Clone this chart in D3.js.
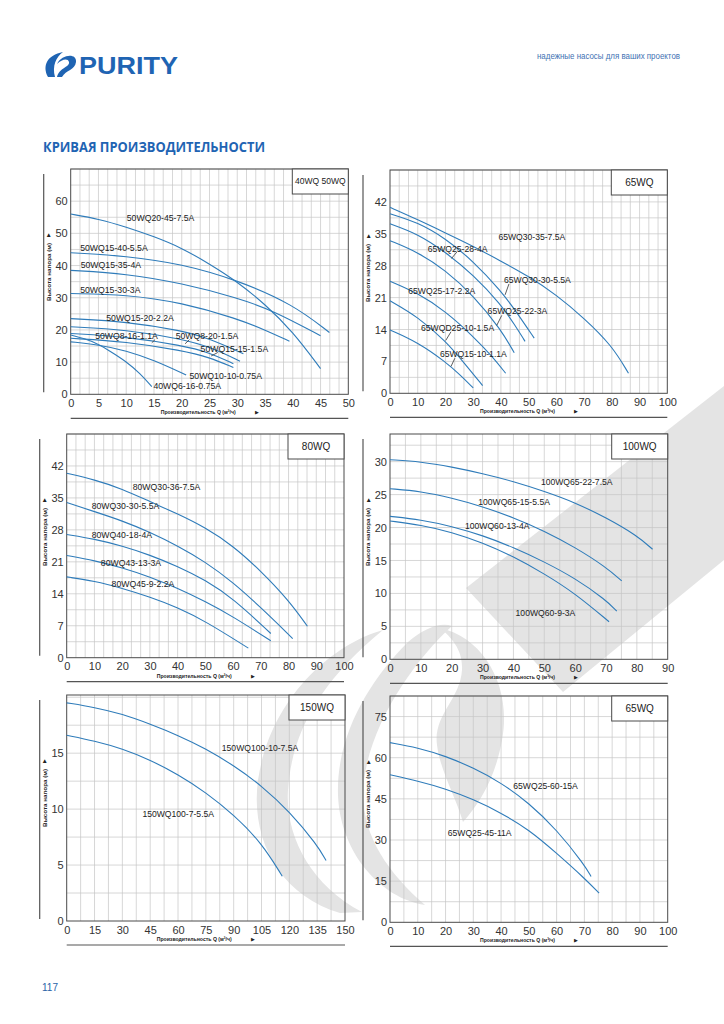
<!DOCTYPE html>
<html>
<head>
<meta charset="utf-8">
<script src="https://cdn.jsdelivr.net/npm/d3@7"></script>
<style>
  body { margin: 0; background: #fff; }
  svg { display: block; }
  text { font-family: "Liberation Sans", Arial, sans-serif; }
</style>
</head>
<body>
<svg id="page" width="724" height="1024"></svg>
<script>
// ---- chart 1 : 40WQ 50WQ ----
var c1Names = ["50WQ20-45-7.5A", "50WQ15-40-5.5A", "50WQ15-35-4A", "50WQ15-30-3A", "50WQ15-20-2.2A",
               "50WQ8-20-1.5A", "50WQ15-15-1.5A", "50WQ8-16-1.1A", "50WQ10-10-0.75A", "40WQ6-16-0.75A"];
var c1Flow = [[0, 5, 10, 15, 20, 25, 30, 35, 40, 45],
              [0, 10, 20, 30, 40, 46.6],
              [0, 10, 20, 30, 36.5, 45],
              [0, 10, 20, 30, 35, 39.4],
              [0, 10, 20, 25, 31.1],
              [0, 10, 20, 25, 30.5],
              [0, 10, 20, 25, 29.3],
              [0, 10, 20, 25, 29.3],
              [0, 5, 10, 15, 20.8],
              [0, 4, 7, 10, 12.5, 14.6]];
var c1Head = [[56, 54.5, 52, 49, 45.5, 40.5, 35, 28, 19.5, 8],
              [44, 43, 40.5, 35.5, 28, 19.2],
              [38.5, 37.5, 34.5, 30, 26, 18.2],
              [31.3, 31, 28.5, 23.5, 20, 16.5],
              [23.5, 22.6, 19.8, 17.3, 12.6],
              [21, 20.1, 17.2, 14.8, 10.3],
              [18.9, 17.9, 15.2, 13, 9.5],
              [17.4, 16.4, 13.6, 11.5, 8.3],
              [16.3, 15.4, 13.6, 10.6, 6],
              [18.4, 16.6, 13.5, 10.2, 6.5, 2.4]];
var c1TicksX = [0, 5, 10, 15, 20, 25, 30, 35, 40, 45, 50];
var c1TicksY = [0, 10, 20, 30, 40, 50, 60];

// ---- chart 2 : 65WQ ----
var c2Names = ["65WQ30-35-7.5A", "65WQ30-30-5.5A", "65WQ25-28-4A", "65WQ25-22-3A",
               "65WQ25-17-2.2A", "65WQD25-10-1.5A", "65WQ15-10-1.1A"];
var c2Flow = [[0, 10, 20, 30, 40, 50, 60, 70, 80, 86],
              [0, 10, 20, 30, 40, 46, 52],
              [0, 10, 20, 30, 40, 45, 48.7],
              [0, 10, 20, 30, 40, 44.8],
              [0, 10, 20, 30, 37, 41.7],
              [0, 10, 20, 27, 33.4],
              [0, 10, 20, 25, 30]];
var c2Head = [[40.8, 38.1, 35.2, 32.3, 29, 25.7, 21.6, 16.5, 10.5, 4.4],
              [39.4, 37.5, 34, 29, 22.5, 17.5, 12.1],
              [37.2, 35, 31, 26, 19.5, 15, 11.4],
              [33.5, 31, 27, 21.5, 14, 8.9],
              [24.6, 22, 18, 12.5, 8, 4.4],
              [20.3, 16.8, 11.5, 6.5, 1.7],
              [13.9, 11.2, 6.9, 4.2, 1.2]];
var c2TicksX = [0, 10, 20, 30, 40, 50, 60, 70, 80, 90, 100];
var c2TicksY = [0, 7, 14, 21, 28, 35, 42];

// ---- chart 3 : 80WQ ----
var c3Names = ["80WQ30-36-7.5A", "80WQ30-30-5.5A", "80WQ40-18-4A", "80WQ43-13-3A", "80WQ45-9-2.2A"];
var c3Flow = [[0, 10, 20, 30, 40, 50, 60, 70, 80, 86.8],
              [0, 10, 20, 30, 40, 50, 60, 70, 81.5],
              [0, 10, 20, 30, 40, 50, 60, 73.6],
              [0, 10, 20, 30, 40, 50, 60, 73.6],
              [0, 10, 20, 30, 40, 50, 65.5]];
var c3Head = [[40.4, 39, 37, 34.2, 31.5, 28.5, 24.5, 19, 12.6, 6.9],
              [34, 32, 30, 27.5, 24.5, 21, 16.5, 11, 4.2],
              [27, 26, 24.5, 22.5, 20, 17, 13, 5.3],
              [22.4, 21.3, 19.7, 17.7, 15.2, 12.3, 9, 3.7],
              [17.7, 16.8, 15.2, 13.3, 11, 8, 2.1]];
var c3TicksX = [0, 10, 20, 30, 40, 50, 60, 70, 80, 90, 100];
var c3TicksY = [0, 7, 14, 21, 28, 35, 42];

// ---- chart 4 : 100WQ ----
var c4Names = ["100WQ65-22-7.5A", "100WQ65-15-5.5A", "100WQ60-13-4A", "100WQ60-9-3A"];
var c4Flow = [[0, 10, 20, 30, 40, 50, 60, 70, 80, 85.1],
              [0, 10, 20, 30, 40, 50, 60, 70, 75.1],
              [0, 10, 20, 30, 40, 50, 60, 70, 73.5],
              [0, 10, 20, 30, 40, 50, 60, 71]];
var c4Head = [[30.3, 30, 29.2, 28.2, 27, 25.5, 23.8, 21.5, 18.8, 16.7],
              [25.9, 25.5, 24.5, 23.2, 21.5, 19.5, 17, 14, 11.9],
              [21.7, 21.2, 20.2, 18.8, 17, 14.8, 12.3, 9, 7.3],
              [21, 20.4, 19.3, 17.7, 15.6, 13, 10, 5.7]];
var c4TicksX = [0, 10, 20, 30, 40, 50, 60, 70, 80, 90];
var c4TicksY = [0, 5, 10, 15, 20, 25, 30];

// ---- chart 5 : 150WQ ----
var c5Names = ["150WQ100-10-7.5A", "150WQ100-7-5.5A"];
var c5Flow = [[0, 15, 30, 45, 60, 75, 90, 105, 120, 135, 139.8],
              [0, 15, 30, 45, 60, 75, 90, 105, 116.2]];
var c5Head = [[19.5, 19.1, 18.5, 17.6, 16.6, 15.4, 13.9, 12.1, 9.8, 6.8, 5.4],
              [16.6, 16.1, 15.4, 14.4, 13.1, 11.5, 9.5, 7, 4]];
var c5TicksX = [0, 15, 30, 45, 60, 75, 90, 105, 120, 135, 150];
var c5TicksY = [0, 5, 10, 15];

// ---- chart 6 : 65WQ ----
var c6Names = ["65WQ25-60-15A", "65WQ25-45-11A"];
var c6Flow = [[0, 10, 20, 30, 40, 50, 60, 70, 72.4],
              [0, 10, 20, 30, 40, 50, 60, 70, 75.3]];
var c6Head = [[65.5, 63.7, 60.6, 56.3, 50.9, 43.5, 33.8, 21, 16.7],
              [53.8, 51.5, 48.7, 44.8, 39.9, 33.8, 25.2, 16.1, 10.6]];
var c6TicksX = [0, 10, 20, 30, 40, 50, 60, 70, 80, 90, 100];
var c6TicksY = [0, 15, 30, 45, 60, 75];

var BLUE = "#1f64b3";
var CURVE = "#2f7cba";
var svg = d3.select("#page");

// faint logo watermark behind the charts
var wm = svg.append("g").attr("fill", "#e4e4e4");
wm.append("path").attr("d", "M466,588 L563,692 L724,560 L724,386 Z");
wm.append("path").attr("d", "M383,630 C330,645 270,700 258,780 C250,840 280,895 340,913 L362,912 C310,885 285,835 288,790 C292,730 322,680 383,630 Z");
wm.append("path").attr("d", "M408,642 C425,628 440,622 452,626 C415,660 372,720 364,780 C358,830 385,870 425,905 C380,898 340,852 338,795 C336,735 370,680 408,642 Z");
wm.append("path").attr("d", "M440,628 C485,638 512,688 502,740 C495,780 478,805 463,822 C455,795 440,770 437,745 C433,715 460,700 462,670 C463,650 452,638 440,628 Z");

// header
var logo = svg.append("g").attr("fill", BLUE);
logo.append("path").attr("d", "M48,77 C42,66 47,55 63,52 C56,57 52,66 55,77 Z");
logo.append("path").attr("d", "M57,64 C62,54 77,53 76,62 C75,70 66,70 62,77 L57,77 C59,68 70,67 69,62 C68,58 62,59 57,64 Z");
svg.append("text").attr("x", 79).attr("y", 74).text("PURITY")
  .attr("font-size", 24).attr("font-weight", 900).attr("fill", BLUE)
  .attr("textLength", 99).attr("lengthAdjust", "spacingAndGlyphs");
svg.append("text").attr("x", 537).attr("y", 59).text("надежные насосы для ваших проектов")
  .attr("font-size", 8.5).attr("fill", "#3f72b3")
  .attr("textLength", 143).attr("lengthAdjust", "spacingAndGlyphs");
svg.append("text").attr("x", 43).attr("y", 152).text("КРИВАЯ ПРОИЗВОДИТЕЛЬНОСТИ")
  .attr("font-size", 14).attr("font-weight", "bold").attr("fill", BLUE)
  .style("font-family", "'Open Sans', sans-serif")
  .attr("textLength", 222).attr("lengthAdjust", "spacingAndGlyphs");
svg.append("text").attr("x", 42).attr("y", 991).text("117")
  .attr("font-size", 10).attr("fill", "#2a63a8");

var panels = [
  {names: c1Names, flow: c1Flow, head: c1Head, tx: c1TicksX, ty: c1TicksY, title: "40WQ 50WQ", titleSize: 8.5,
   left: 70.7, right: 348.3, top: 169, bottom: 394.3, xMax: 50, yMax: 70, xStep: 5 / 3, yStep: 5, lab: 8.7,
   at: [[10.1, 54.9], [1.7, 45.5], [1.8, 40.2], [1.7, 32.4], [6.4, 23.7], [18.9, 18.1], [23.4, 14.1], [4.4, 18.1], [21.4, 5.8], [14.9, 2.6]],
   leaders: [[[21.4, 17.0], [20.6, 15.7]], [[26.5, 13.0], [25.3, 11.9]], [[15.2, 17.0], [14.6, 16.0]]]},
  {names: c2Names, flow: c2Flow, head: c2Head, tx: c2TicksX, ty: c2TicksY, title: "65WQ", titleSize: 10,
   left: 390, right: 667.3, top: 170, bottom: 393.3, xMax: 100, yMax: 49, xStep: 10 / 3, yStep: 3.5, lab: 8.6,
   at: [[39.1, 34.2], [41.1, 24.9], [13.6, 31.7], [35.2, 18.1], [6.6, 22.5], [11.2, 14.4], [18, 8.6]],
   leaders: [[[24.1, 31.0], [22.2, 29.6]], [[42.9, 24], [41.5, 21.6]], [[40.3, 17.1], [38.5, 14.9]],
             [[22, 13.5], [20.1, 11.6]], [[23.4, 7.7], [22, 5.9]]]},
  {names: c3Names, flow: c3Flow, head: c3Head, tx: c3TicksX, ty: c3TicksY, title: "80WQ", titleSize: 10,
   left: 66.7, right: 344, top: 434, bottom: 657.7, xMax: 100, yMax: 49, xStep: 10 / 3, yStep: 3.5, lab: 8.7,
   at: [[23.8, 37.3], [9, 33.2], [9, 26.9], [12.3, 20.8], [16.2, 16.1]], leaders: []},
  {names: c4Names, flow: c4Flow, head: c4Head, tx: c4TicksX, ty: c4TicksY, title: "100WQ", titleSize: 10,
   left: 390, right: 667.7, top: 434, bottom: 659.3, xMax: 90, yMax: 34.2, xStep: 5, yStep: 2.5, lab: 8.6,
   at: [[48.9, 26.9], [28.6, 23.9], [24.3, 20.2], [40.7, 7.1]], leaders: []},
  {names: c5Names, flow: c5Flow, head: c5Head, tx: c5TicksX, ty: c5TicksY, title: "150WQ", titleSize: 10,
   left: 66.7, right: 345, top: 695, bottom: 921, xMax: 150, yMax: 20.2, xStep: 7.5, yStep: 2.5, lab: 8.6,
   at: [[83.6, 15.5], [40.8, 9.6]], leaders: []},
  {names: c6Names, flow: c6Flow, head: c6Head, tx: c6TicksX, ty: c6TicksY, title: "65WQ", titleSize: 10,
   left: 390, right: 667.7, top: 696, bottom: 922.3, xMax: 100, yMax: 82.5, xStep: 5, yStep: 7.5, lab: 8.6,
   at: [[44.4, 49.8], [20.8, 32.7]], leaders: []}
];

panels.forEach(drawPanel);

function drawPanel(p) {
  var g = svg.append("g");
  var x = d3.scaleLinear().domain([0, p.xMax]).range([p.left, p.right]);
  var y = d3.scaleLinear().domain([0, p.yMax]).range([p.bottom, p.top]);

  // grid
  var nx = Math.round(p.xMax / p.xStep), ny = Math.floor(p.yMax / p.yStep + 1e-6);
  g.append("g").selectAll("line").data(d3.range(1, nx)).join("line")
    .attr("x1", function(i) { return x(i * p.xStep); }).attr("x2", function(i) { return x(i * p.xStep); })
    .attr("y1", p.top).attr("y2", p.bottom)
    .attr("stroke", "#c6c6c6").attr("stroke-width", 0.7);
  g.append("g").selectAll("line").data(d3.range(1, ny + 1)).join("line")
    .attr("y1", function(i) { return y(i * p.yStep); }).attr("y2", function(i) { return y(i * p.yStep); })
    .attr("x1", p.left).attr("x2", p.right)
    .attr("stroke", "#c6c6c6").attr("stroke-width", 0.7);

  g.append("rect").attr("x", p.left).attr("y", p.top)
    .attr("width", p.right - p.left).attr("height", p.bottom - p.top)
    .attr("fill", "none").attr("stroke", "#4a4a4a").attr("stroke-width", 1);

  // axes
  var ax = g.append("g").attr("transform", "translate(0," + p.bottom + ")")
    .call(d3.axisBottom(x).tickValues(p.tx).tickSize(0).tickPadding(5));
  var ay = g.append("g").attr("transform", "translate(" + p.left + ",0)")
    .call(d3.axisLeft(y).tickValues(p.ty).tickSize(0).tickPadding(3));
  [ax, ay].forEach(function(a) {
    a.select(".domain").remove();
    a.attr("font-family", "'Liberation Sans', Arial, sans-serif").attr("font-size", 11);
    a.selectAll("text").attr("fill", "#333");
  });

  // decorative frame lines outside the plot
  g.append("line").attr("x1", p.left - 27).attr("x2", p.left - 27)
    .attr("y1", p.top + 5).attr("y2", p.bottom - 2)
    .attr("stroke", "#555").attr("stroke-width", 1.2);
  g.append("line").attr("x1", p.left).attr("x2", p.right)
    .attr("y1", p.bottom + 24).attr("y2", p.bottom + 24)
    .attr("stroke", "#555").attr("stroke-width", 1.2);

  // axis titles
  g.append("text").attr("x", p.left + 90).attr("y", p.bottom + 20)
    .text("Производительность Q (м³/ч)")
    .attr("font-size", 5.6).attr("font-weight", "bold").attr("fill", "#222")
    .attr("textLength", 75).attr("lengthAdjust", "spacingAndGlyphs");
  g.append("text").attr("x", p.left + 184).attr("y", p.bottom + 20)
    .text("▶").attr("font-size", 5).attr("fill", "#222");
  g.append("text").attr("transform", "translate(" + (p.left - 22) + "," + (p.top + 132) + ") rotate(-90)")
    .attr("dy", "0.35em").text("Высота напора (м)")
    .attr("font-size", 5.6).attr("font-weight", "bold").attr("fill", "#222")
    .attr("textLength", 58).attr("lengthAdjust", "spacingAndGlyphs");
  g.append("text").attr("transform", "translate(" + (p.left - 22) + "," + (p.top + 68) + ") rotate(-90)")
    .attr("dy", "0.35em").text("▶").attr("font-size", 5).attr("fill", "#222");

  // curves
  var line = d3.line().curve(d3.curveBasis)
    .x(function(d) { return x(d[0]); }).y(function(d) { return y(d[1]); });
  g.append("g").selectAll("path").data(p.names).join("path")
    .attr("d", function(n, i) { return line(d3.zip(p.flow[i], p.head[i])); })
    .attr("fill", "none").attr("stroke", CURVE).attr("stroke-width", 1.1);

  // curve labels
  g.append("g").selectAll("text").data(p.names).join("text")
    .attr("x", function(n, i) { return x(p.at[i][0]); })
    .attr("y", function(n, i) { return y(p.at[i][1]); })
    .attr("dy", "0.35em").text(function(n) { return n; })
    .attr("font-size", p.lab).attr("fill", "#222");
  g.append("g").selectAll("line").data(p.leaders).join("line")
    .attr("x1", function(d) { return x(d[0][0]); }).attr("y1", function(d) { return y(d[0][1]); })
    .attr("x2", function(d) { return x(d[1][0]); }).attr("y2", function(d) { return y(d[1][1]); })
    .attr("stroke", "#333").attr("stroke-width", 0.8);

  // series box, top right
  g.append("rect").attr("x", p.right - 56).attr("y", p.top)
    .attr("width", 56).attr("height", 25)
    .attr("fill", "#fff").attr("stroke", "#4a4a4a").attr("stroke-width", 1);
  g.append("text").attr("x", p.right - 28).attr("y", p.top + 12.5)
    .attr("dy", "0.35em").attr("text-anchor", "middle").text(p.title)
    .attr("font-size", p.titleSize).attr("fill", "#222");
}
</script>
</body>
</html>
